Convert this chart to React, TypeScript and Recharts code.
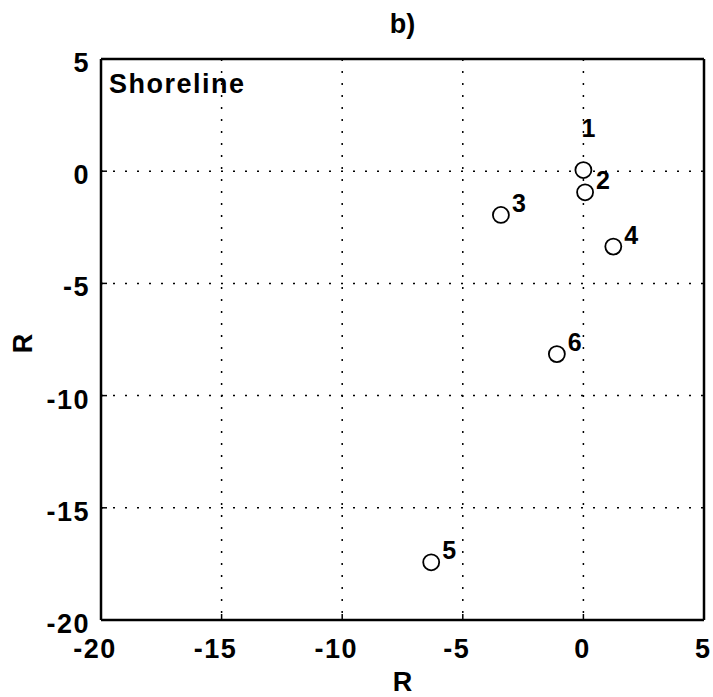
import { ScatterChart, Scatter, XAxis, YAxis, CartesianGrid } from 'recharts';

const pointIds = ['1', '2', '3', '4', '5', '6'];
const xValues = [0.0, 0.07, -3.42, 1.24, -6.31, -1.1];
const yValues = [0.05, -0.94, -1.95, -3.36, -17.43, -8.15];

const xTicks = [-20, -15, -10, -5, 0, 5];
const yTicks = [-20, -15, -10, -5, 0, 5];

const data = pointIds.map((id, i) => ({ id, x: xValues[i], y: yValues[i] }));

const FONT = '"Liberation Sans", Arial, Helvetica, sans-serif';
const FS = 27;

// matlab style: digits centred on the tick, minus sign hanging to the left
const BottomTick = (props: any) => {
  const { x, y, payload } = props;
  const v = payload.value;
  const digits = String(Math.abs(v));
  const half = (digits.length * 0.556 * FS + (digits.length - 1) * 1.5) / 2;
  return (
    <g>
      <line x1={x} y1={y} x2={x} y2={y - 6} stroke="#000" strokeWidth={1.5} />
      <text x={x + half} y={y + 38} textAnchor="end" fontFamily={FONT} fontWeight="bold" fontSize={FS} letterSpacing={1.5} fill="#000">
        {v < 0 ? '-' : ''}{digits}
      </text>
    </g>
  );
};

const LeftTick = (props: any) => {
  const { x, y, payload } = props;
  return (
    <g>
      <line x1={x} y1={y} x2={x + 6} y2={y} stroke="#000" strokeWidth={1.5} />
      <text x={x - 11} y={y + 13} textAnchor="end" fontFamily={FONT} fontWeight="bold" fontSize={FS} letterSpacing={1.5} fill="#000">
        {payload.value}
      </text>
    </g>
  );
};

const TopTick = (props: any) => (
  <line x1={props.x} y1={props.y} x2={props.x} y2={props.y + 6} stroke="#000" strokeWidth={1.5} />
);

const RightTick = (props: any) => (
  <line x1={props.x} y1={props.y} x2={props.x - 6} y2={props.y} stroke="#000" strokeWidth={1.5} />
);

const Marker = (props: any) => {
  const { cx, cy, payload } = props;
  const above = payload.id === '1';
  return (
    <g>
      <circle cx={cx} cy={cy} r={8} fill="#fff" stroke="#000" strokeWidth={1.8} />
      <text
        x={above ? cx + 5 : cx + 11}
        y={above ? cy - 33 : cy - 3}
        textAnchor={above ? 'middle' : 'start'}
        fontFamily={FONT}
        fontWeight="bold"
        fontSize={25}
        fill="#000"
      >
        {payload.id}
      </text>
    </g>
  );
};

export default function App() {
  return (
    <div style={{ width: 713, height: 697, background: '#fff' }}>
      <style>{`body { margin: 0; }`}</style>
      <ScatterChart width={713} height={697} margin={{ top: 58, right: 8, bottom: 0, left: 0 }}>
        <CartesianGrid stroke="#000" strokeWidth={1.5} strokeDasharray="2 10" />
        <XAxis
          type="number"
          dataKey="x"
          domain={[-20, 5]}
          ticks={xTicks}
          height={77}
          tickSize={0}
          tickMargin={0}
          tickLine={false}
          axisLine={{ stroke: '#000', strokeWidth: 2.5 }}
          tick={<BottomTick />}
          interval={0}
          label={{
            content: (p: any) => (
              <text x={p.viewBox.x + p.viewBox.width / 2} y={p.viewBox.y + 71} textAnchor="middle" fontFamily={FONT} fontWeight="bold" fontSize={FS} fill="#000">
                R
              </text>
            ),
          }}
        />
        <XAxis
          xAxisId="top"
          orientation="top"
          type="number"
          dataKey="x"
          domain={[-20, 5]}
          ticks={xTicks}
          height={1}
          tickSize={0}
          tickMargin={0}
          tickLine={false}
          axisLine={{ stroke: '#000', strokeWidth: 2.5 }}
          tick={<TopTick />}
          interval={0}
          label={{
            content: (p: any) => (
              <g>
                <text x={p.viewBox.x + p.viewBox.width / 2} y={33} textAnchor="middle" fontFamily={FONT} fontWeight="bold" fontSize={FS} fill="#000">
                  b)
                </text>
                <text x={p.viewBox.x + 8} y={93} fontFamily={FONT} fontWeight="bold" fontSize={FS} letterSpacing={1.5} fill="#000">
                  Shoreline
                </text>
              </g>
            ),
          }}
        />
        <YAxis
          type="number"
          dataKey="y"
          domain={[-20, 5]}
          ticks={yTicks}
          width={101}
          tickSize={0}
          tickMargin={0}
          tickLine={false}
          axisLine={{ stroke: '#000', strokeWidth: 2.5 }}
          tick={<LeftTick />}
          interval={0}
          label={{
            content: (p: any) => {
              const cx = 23;
              const cy = p.viewBox.y + p.viewBox.height / 2 + 4;
              return (
                <text x={cx} y={cy} transform={`rotate(-90 ${cx} ${cy})`} textAnchor="middle" dominantBaseline="central" fontFamily={FONT} fontWeight="bold" fontSize={FS} fill="#000">
                  R
                </text>
              );
            },
          }}
        />
        <YAxis
          yAxisId="right"
          orientation="right"
          type="number"
          dataKey="y"
          domain={[-20, 5]}
          ticks={yTicks}
          width={1}
          tickSize={0}
          tickMargin={0}
          tickLine={false}
          axisLine={{ stroke: '#000', strokeWidth: 2.5 }}
          tick={<RightTick />}
          interval={0}
        />
        <Scatter data={data} shape={<Marker />} isAnimationActive={false} />
      </ScatterChart>
    </div>
  );
}
